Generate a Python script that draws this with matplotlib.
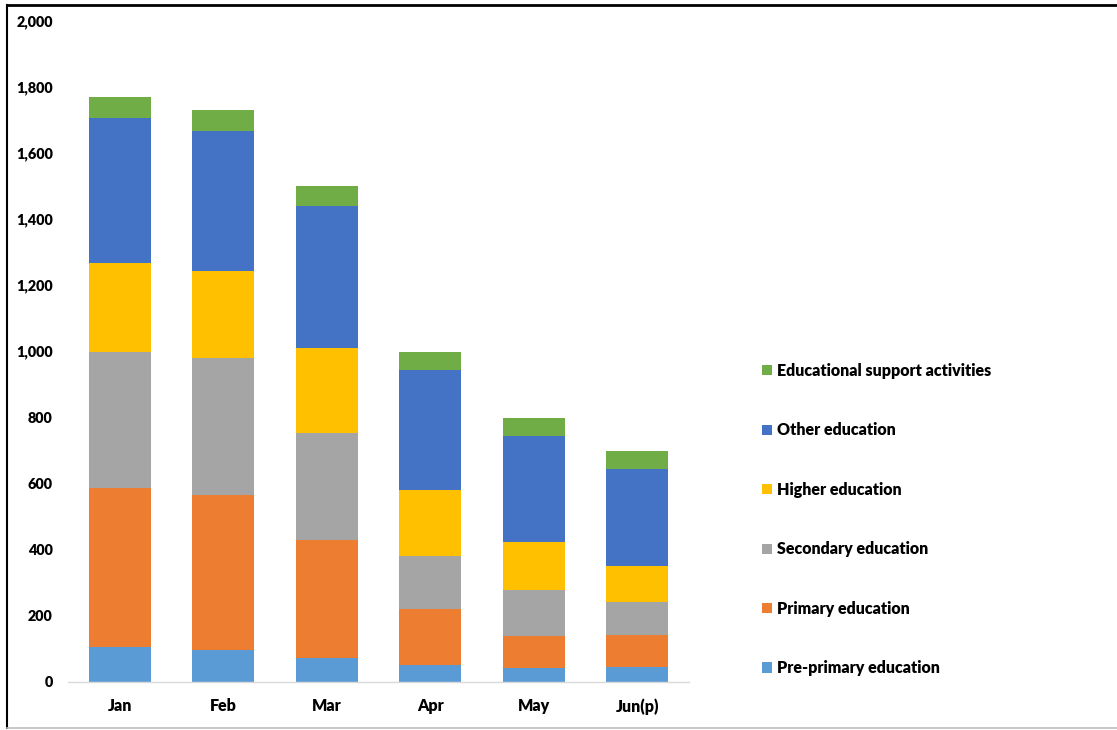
import matplotlib
matplotlib.use("Agg")
import matplotlib.pyplot as plt
from matplotlib.lines import Line2D
from matplotlib.patches import Patch
import numpy as np

months = ["Jan", "Feb", "Mar", "Apr", "May", "Jun(p)"]
series_names = ["Pre-primary education", "Primary education", "Secondary education",
                "Higher education", "Other education", "Educational support activities"]
pre_primary = [105, 94, 71, 49, 42, 45]
primary = [480, 470, 357, 169, 96, 97]
secondary = [413, 416, 324, 162, 139, 98]
higher = [268, 263, 258, 199, 146, 110]
other = [439, 423, 429, 364, 321, 293]
support = [63, 62, 59, 55, 54, 54]
colors = ["#5B9BD5", "#ED7D31", "#A5A5A5", "#FFC000", "#4472C4", "#70AD47"]
yticks = [0, 200, 400, 600, 800, 1000, 1200, 1400, 1600, 1800, 2000]

plt.rcParams['font.family'] = ['Lato', 'DejaVu Sans']
plt.rcParams['font.weight'] = 'bold'

W, H = 1117, 730
fig = plt.figure(figsize=(W/100, H/100), dpi=100)
ax = fig.add_axes([68/W, (H-681.5)/H, (689-68)/W, (681.5-20.5)/H])

x = np.arange(len(months))
bottom = np.zeros(len(months))
data = [pre_primary, primary, secondary, higher, other, support]
for vals, c, name in zip(data, colors, series_names):
    ax.bar(x, vals, width=0.6, bottom=bottom, color=c, label=name, linewidth=0)
    bottom += np.array(vals)

ax.set_xlim(-0.5, 5.5)
ax.set_ylim(0, 2000)
ax.set_yticks(yticks)
ax.set_yticklabels([f"{v:,}" for v in yticks])
ax.set_xticks(x)
ax.set_xticklabels(months)
ax.tick_params(axis='y', length=0, pad=11, labelsize=10.4)
ax.tick_params(axis='x', length=0, pad=12, labelsize=11.5)
for lab in ax.get_xticklabels() + ax.get_yticklabels():
    lab.set_fontweight('heavy')
for s in ['top', 'right', 'left']:
    ax.spines[s].set_visible(False)
ax.spines['bottom'].set_color('#D9D9D9')
ax.spines['bottom'].set_linewidth(1)

handles = [Patch(facecolor=c, label=n) for c, n in zip(colors, series_names)][::-1]
leg = fig.legend(handles=handles, loc='center left',
                 bbox_to_anchor=(762/W, 1-519.5/H), frameon=False,
                 borderpad=0, borderaxespad=0, handlelength=0.6, handleheight=0.6,
                 handletextpad=0.35, labelspacing=2.72,
                 prop={'size': 11.5, 'weight': 'heavy'})

# outer frame
fig.add_artist(Line2D([7/W, 7/W], [1-5/H, 1-728/H], transform=fig.transFigure, color='black', lw=1.5))
fig.add_artist(Line2D([7/W, 1.0], [1-5/H, 1-5/H], transform=fig.transFigure, color='black', lw=2))
fig.add_artist(Line2D([7/W, 1.0], [1-728/H, 1-728/H], transform=fig.transFigure, color='#BFBFBF', lw=1.2))

fig.savefig("out.png", dpi=100)
